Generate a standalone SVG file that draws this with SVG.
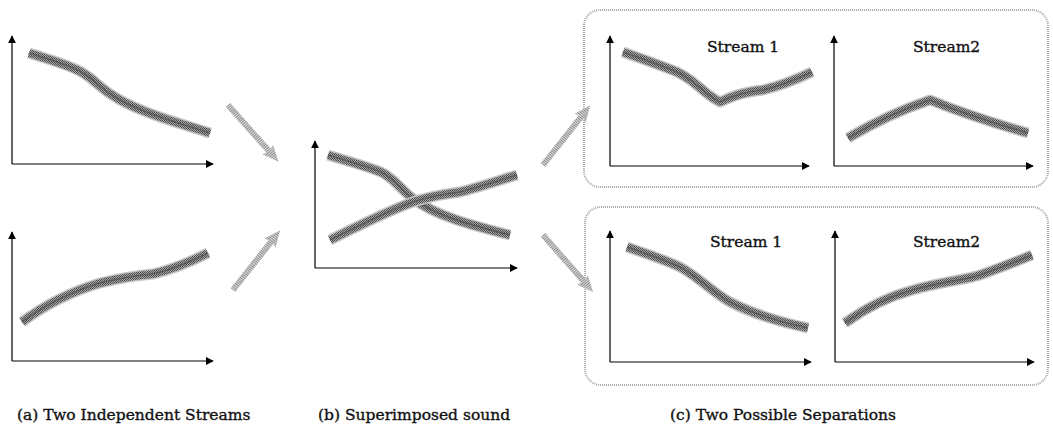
<svg xmlns="http://www.w3.org/2000/svg" width="1053" height="428" viewBox="0 0 1053 428">
  <style>
    .axis { stroke: #000; stroke-width: 1.2; fill: none; marker-end: url(#axisHead); }
    .trace-halo { fill: none; stroke: #c4c4c4; stroke-width: 11; stroke-linecap: butt; stroke-linejoin: round; }
    .trace-dots { fill: none; stroke: url(#dither); stroke-width: 8; stroke-linecap: butt; stroke-linejoin: round; }
    .trace-core { fill: none; stroke: #5a5a5a; stroke-width: 1.6; stroke-linejoin: round; }
    .frame { fill: none; stroke: #a8a8a8; stroke-width: 2; stroke-dasharray: 1 1; }
    .label { font-family: "DejaVu Serif", "Liberation Serif", serif; font-size: 15.5px; fill: #111; stroke: #111; stroke-width: 0.35; }
    .caption { font-family: "DejaVu Serif", "Liberation Serif", serif; font-size: 15.5px; fill: #111; stroke: #111; stroke-width: 0.35; }
    .flow { fill: url(#hatch); }
  </style>
  <defs>
    <pattern id="dither" width="2" height="2" patternUnits="userSpaceOnUse">
      <rect width="2" height="2" fill="#a8a8a8"/>
      <rect width="1" height="1" fill="#444"/>
      <rect x="1" y="1" width="1" height="1" fill="#555"/>
    </pattern>
    <pattern id="hatch" width="2" height="2" patternUnits="userSpaceOnUse">
      <rect width="2" height="2" fill="#e0e0e0"/>
      <rect width="1" height="2" fill="#8a8a8a"/>
    </pattern>
    <marker id="axisHead" viewBox="0 0 10 10" refX="9" refY="5" markerWidth="8" markerHeight="8" markerUnits="userSpaceOnUse" orient="auto">
      <path d="M0,0 L10,5 L0,10 z" fill="#000"/>
    </marker>
    <!-- thick flow arrow, pointing along +x, tail at origin -->
    <path id="flowArrow" d="M0,-3 L61,-3 L60,-7 L76,0 L60,7 L61,3 L0,3 z"/>
  </defs>

  <!-- dotted frames around the two separations -->
  <g id="frame-top">
    <rect class="frame" x="584" y="10" width="464" height="177" rx="16" ry="16"/>
  </g>
  <g id="frame-bottom">
    <rect class="frame" x="585" y="207" width="463" height="178" rx="16" ry="16"/>
  </g>

  <!-- (a) stream falling -->
  <g id="plot-a1">
    <path class="axis" d="M12,164 L12,36"/>
    <path class="axis" d="M12,164 L213,164"/>
    <path class="trace-halo" d="M29,53 C50,60 70,65 83,73 C95,80 100,88 112,95 C125,104 140,110 160,117 C180,124 195,128 210,133"/>
    <path class="trace-dots" d="M29,53 C50,60 70,65 83,73 C95,80 100,88 112,95 C125,104 140,110 160,117 C180,124 195,128 210,133"/>
    <path class="trace-core" d="M29,53 C50,60 70,65 83,73 C95,80 100,88 112,95 C125,104 140,110 160,117 C180,124 195,128 210,133"/>
  </g>

  <!-- (a) stream rising -->
  <g id="plot-a2">
    <path class="axis" d="M12,361 L12,232"/>
    <path class="axis" d="M12,361 L213,361"/>
    <path class="trace-halo" d="M22,322 C45,305 70,292 100,283 C125,277 140,275 153,274 C170,270 190,262 208,253"/>
    <path class="trace-dots" d="M22,322 C45,305 70,292 100,283 C125,277 140,275 153,274 C170,270 190,262 208,253"/>
    <path class="trace-core" d="M22,322 C45,305 70,292 100,283 C125,277 140,275 153,274 C170,270 190,262 208,253"/>
  </g>

  <!-- (b) superimposed -->
  <g id="plot-b">
    <path class="axis" d="M315,268 L315,141"/>
    <path class="axis" d="M315,268 L517,268"/>
    <path class="trace-halo" d="M328,155 C350,162 370,167 383,173 C398,182 403,192 415,200 C435,215 470,225 510,235"/>
    <path class="trace-dots" d="M328,155 C350,162 370,167 383,173 C398,182 403,192 415,200 C435,215 470,225 510,235"/>
    <path class="trace-core" d="M328,155 C350,162 370,167 383,173 C398,182 403,192 415,200 C435,215 470,225 510,235"/>
    <path class="trace-halo" d="M330,240 C360,225 390,210 413,202 C430,196 445,194 460,192 C480,187 500,180 517,175"/>
    <path class="trace-dots" d="M330,240 C360,225 390,210 413,202 C430,196 445,194 460,192 C480,187 500,180 517,175"/>
    <path class="trace-core" d="M330,240 C360,225 390,210 413,202 C430,196 445,194 460,192 C480,187 500,180 517,175"/>
  </g>

  <!-- (c) first separation -->
  <g id="plot-c1-stream1">
    <path class="axis" d="M610,166 L610,36"/>
    <path class="axis" d="M610,166 L809,166"/>
    <path class="trace-halo" d="M623,52 C645,60 660,65 677,72 C695,80 705,95 720,102 C735,95 745,92 763,90 C780,86 795,80 812,72"/>
    <path class="trace-dots" d="M623,52 C645,60 660,65 677,72 C695,80 705,95 720,102 C735,95 745,92 763,90 C780,86 795,80 812,72"/>
    <path class="trace-core" d="M623,52 C645,60 660,65 677,72 C695,80 705,95 720,102 C735,95 745,92 763,90 C780,86 795,80 812,72"/>
    <text class="label" x="707" y="52">Stream 1</text>
  </g>
  <g id="plot-c1-stream2">
    <path class="axis" d="M834,166 L834,36"/>
    <path class="axis" d="M834,166 L1033,166"/>
    <path class="trace-halo" d="M848,138 C870,125 900,110 930,100 C960,112 1000,125 1028,133"/>
    <path class="trace-dots" d="M848,138 C870,125 900,110 930,100 C960,112 1000,125 1028,133"/>
    <path class="trace-core" d="M848,138 C870,125 900,110 930,100 C960,112 1000,125 1028,133"/>
    <text class="label" x="913" y="52">Stream2</text>
  </g>

  <!-- (c) second separation -->
  <g id="plot-c2-stream1">
    <path class="axis" d="M610,362 L610,231"/>
    <path class="axis" d="M610,362 L811,362"/>
    <path class="trace-halo" d="M627,247 C650,255 665,260 680,267 C700,278 712,292 730,302 C755,315 780,322 808,328"/>
    <path class="trace-dots" d="M627,247 C650,255 665,260 680,267 C700,278 712,292 730,302 C755,315 780,322 808,328"/>
    <path class="trace-core" d="M627,247 C650,255 665,260 680,267 C700,278 712,292 730,302 C755,315 780,322 808,328"/>
    <text class="label" x="710" y="247">Stream 1</text>
  </g>
  <g id="plot-c2-stream2">
    <path class="axis" d="M835,362 L835,231"/>
    <path class="axis" d="M835,362 L1034,362"/>
    <path class="trace-halo" d="M845,323 C870,305 890,296 913,290 C940,282 965,280 980,275 C1000,268 1015,262 1032,255"/>
    <path class="trace-dots" d="M845,323 C870,305 890,296 913,290 C940,282 965,280 980,275 C1000,268 1015,262 1032,255"/>
    <path class="trace-core" d="M845,323 C870,305 890,296 913,290 C940,282 965,280 980,275 C1000,268 1015,262 1032,255"/>
    <text class="label" x="913" y="247">Stream2</text>
  </g>

  <!-- flow arrows between stages -->
  <g id="connectors">
    <use href="#flowArrow" class="flow" transform="translate(228,105) rotate(48.3)"/>
    <use href="#flowArrow" class="flow" transform="translate(233,290) rotate(-51.7)"/>
    <use href="#flowArrow" class="flow" transform="translate(543,165) rotate(-51.6)"/>
    <use href="#flowArrow" class="flow" transform="translate(543,235) rotate(48.7)"/>
  </g>

  <!-- captions -->
  <g id="captions">
    <text class="caption" x="17" y="420">(a) Two Independent Streams</text>
    <text class="caption" x="318" y="420">(b) Superimposed sound</text>
    <text class="caption" x="670" y="420">(c) Two Possible Separations</text>
  </g>
</svg>
